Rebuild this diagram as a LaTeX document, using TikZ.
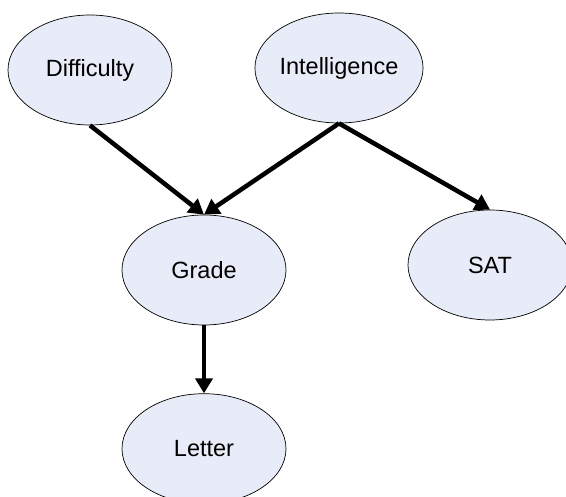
\documentclass[tikz,border=0pt]{standalone}
\usepackage{fontspec}
\setmainfont{Liberation Sans}
\usetikzlibrary{positioning}
\usetikzlibrary{shapes.geometric}
\usetikzlibrary{arrows.meta}
\definecolor{nodefill}{RGB}{232,236,248}

\begin{document}
\begin{tikzpicture}
	[x=1pt,y=-1pt,>={Triangle[length=15pt,width=17pt]},
	rvnode/.style={ellipse,draw,fill=nodefill,line width=0.7pt,inner sep=0pt,
		minimum width=164pt,minimum height=110pt,font=\fontsize{23.5}{28}\selectfont},
	edge/.style={->,line width=4.5pt}]
	\useasboundingbox (0,0) rectangle (566,497);
	\node at (90,70)   [rvnode] (difficulty) {Difficulty};
	\node at (339,68)  [rvnode] (intelligence) {Intelligence};
	\node at (204,270) [rvnode] (grade) {Grade};
	\node at (490,265) [rvnode] (sat) {SAT};
	\node [rvnode] (letter) [below=68pt of grade] {Letter};
	\draw [edge] (difficulty.south) -- (grade.north);
	\draw [edge] (intelligence.south) -- (grade.north);
	\draw [edge] (intelligence.south) -- (sat.north);
	\draw [edge] (grade.south) -- (letter.north);
\end{tikzpicture}
\end{document}
